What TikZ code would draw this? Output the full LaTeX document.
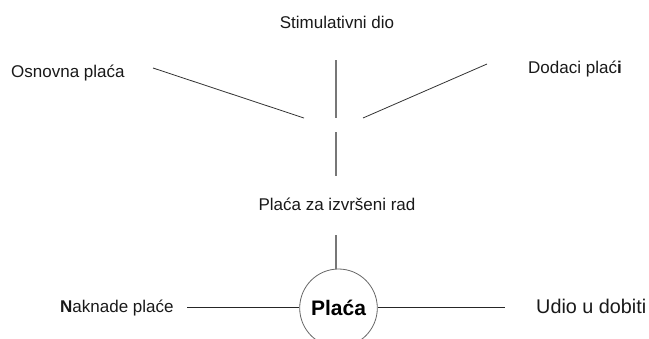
\documentclass[tikz,border=0pt]{standalone}
\usepackage{fontspec}
\setmainfont{Liberation Sans}
\usetikzlibrary{shapes.geometric}
\definecolor{vgray}{HTML}{777777}
\definecolor{cgray}{HTML}{666666}
\tikzset{
  lbl/.style={inner sep=0pt, anchor=base, font=\fontsize{17bp}{20bp}\selectfont, text=black!90},
  vline/.style={draw=vgray, line width=1.6bp},
  dline/.style={draw=black!80, line width=0.8bp},
  hline/.style={draw=black!85, line width=0.9bp},
  hub/.style={ellipse, draw=cgray, line width=0.8bp, minimum width=73bp, minimum height=78bp, inner sep=0pt, font=\bfseries\fontsize{21bp}{24bp}\selectfont}
}
\begin{document}
\begin{tikzpicture}[x=1bp,y=-1bp]
\useasboundingbox (0,0) rectangle (649,338);
% labels
\node[lbl] (stim) at (337,28) {Stimulativni dio};
\node[lbl, anchor=base west] (osn) at (11,77) {Osnovna plaća};
\node[lbl, anchor=base west] (dod) at (528,73) {Dodaci plać{\bfseries i}};
\node[lbl] (rad) at (337,210) {Plaća za izvršeni rad};
\node[lbl, anchor=base west] (nak) at (60,312) {{\bfseries N}aknade plaće};
\node[lbl, anchor=base west, font=\fontsize{19.8bp}{23bp}\selectfont] (udio) at (536,313) {Udio u dobiti};
\node[hub] (placa) at (338.5,308) {Plaća};
% free ends
\coordinate (l1a) at (153,68);
\coordinate (l1b) at (304,118);
\coordinate (v1a) at (336,60);
\coordinate (v1b) at (336,118);
\coordinate (r1a) at (487,64);
\coordinate (r1b) at (363,118);
\coordinate (v2a) at (336,132);
\coordinate (v2b) at (336,176);
\coordinate (v3a) at (336,235);
\coordinate (h1a) at (187,307.5);
\coordinate (h2b) at (505,307.5);
% connectors
\draw[dline] (l1a) -- (l1b);
\draw[vline] (v1a) -- (v1b);
\draw[dline] (r1a) -- (r1b);
\draw[vline] (v2a) -- (v2b);
\draw[vline] (v3a) -- (v3a |- placa.north);
\draw[hline] (h1a) -- (h1a -| placa.west);
\draw[hline] (placa.east |- h2b) -- (h2b);
\end{tikzpicture}
\end{document}
